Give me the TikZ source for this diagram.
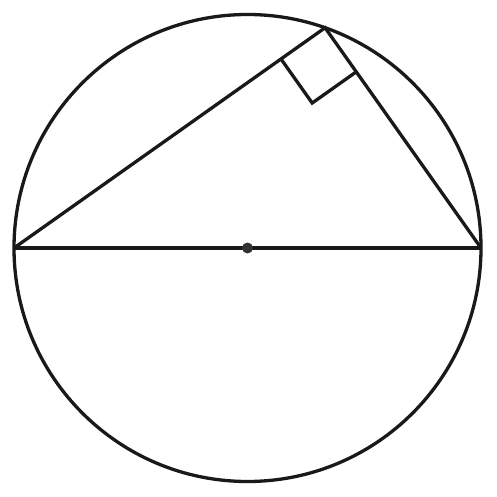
\documentclass[tikz,border=0pt]{standalone}
\usetikzlibrary{calc}
\begin{document}
\begin{tikzpicture}[x=1pt,y=-1pt,
  edge/.style={draw=black!90,line width=3.3pt}]
\useasboundingbox (0,0) rectangle (497,497);
\coordinate (O) at (247.5,248);
\coordinate (A) at (14,248);
\coordinate (B) at (481,248);
\coordinate (C) at ($(O)+(70.6:233.5 and -233.5)$);
\draw[edge] (O) circle[radius=233.5];
\draw[edge] (A) -- (B);
\draw[edge,line join=miter] (A) -- (C) -- (B);
\coordinate (P) at ($(C)!54pt!(A)$);
\coordinate (Q) at ($(C)!54pt!(B)$);
\coordinate (R) at ($(P)+(Q)-(C)$);
\draw[edge] (P) -- (R) -- (Q);
\fill[black!80] (O) circle[radius=5.5];
\end{tikzpicture}
\end{document}
